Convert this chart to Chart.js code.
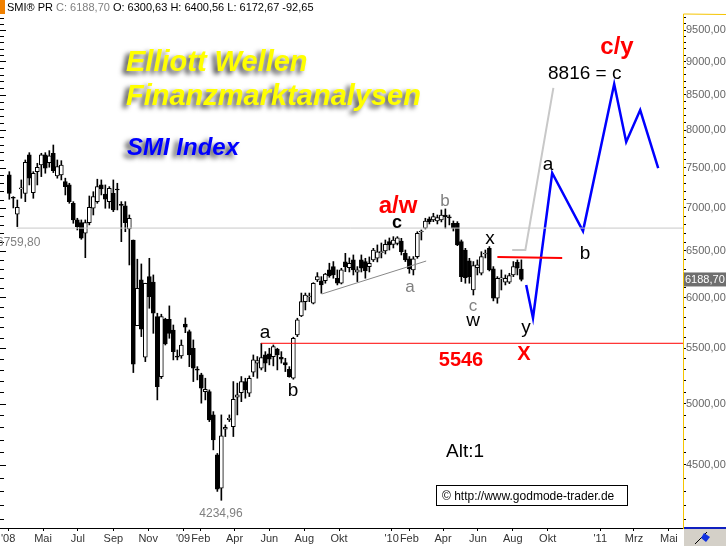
<!DOCTYPE html>
<html>
<head>
<meta charset="utf-8">
<title>SMI Index - Elliott Wellen</title>
<script src="https://cdn.jsdelivr.net/npm/chart.js@4.4.0/dist/chart.umd.min.js"></script>
<style>
  html, body { margin: 0; padding: 0; background: #fff; }
  #wrap { width: 726px; height: 546px; }
</style>
</head>
<body>
<div id="wrap"><canvas id="chart" width="726" height="546"></canvas></div>
<script>
// Weekly candles, first candle = week of Mon 3 Mar 2008
const firstWeek = "2008-03-03";

const candleOpen = [
  7406, 7125, 6923, 7230, 7176, 7665, 7184, 7448, 7534, 7665,
  7564, 7687, 7394, 7406, 7322, 7280, 7054, 6855, 6823, 6700,
  6823, 6994, 7074, 7280, 7168, 7074, 7176, 7226, 7034, 7022,
  6750, 6623, 5717, 6184, 5415, 6219, 6160, 5806, 5238, 5780,
  5780, 5674, 5425, 5427, 5733, 5658, 5499, 5305, 5253, 5104,
  5104, 4904, 4578, 4324, 4785, 4865, 4806, 5055, 5096, 5193,
  5090, 5277, 5360, 5314, 5436, 5446, 5421, 5490, 5415, 5365,
  5304, 5223, 5626, 5813, 5957, 6005, 5941, 6184, 6173, 6176,
  6291, 6327, 6202, 6149, 6378, 6316, 6400, 6266, 6400, 6382,
  6327, 6400, 6418, 6480, 6499, 6604, 6574, 6585, 6612, 6473,
  6411, 6291, 6437, 6715, 6758, 6867, 6855, 6843, 6855, 6914,
  6890, 6816, 6816, 6604, 6510, 6389, 6078, 6316, 6255, 6466,
  6529, 6302, 5992, 6195, 6160, 6160, 6237, 6375, 6300.63
];
const candleHigh = [
  7448, 7135, 7094, 7343, 7599, 7695, 7448, 7556, 7687, 7695,
  7722, 7797, 7599, 7590, 7365, 7301, 7074, 6875, 6855, 6855,
  7143, 7196, 7352, 7343, 7280, 7259, 7343, 7301, 7074, 7074,
  6914, 6623, 6408, 6356, 6149, 6418, 6237, 5840, 5830, 5790,
  5914, 5723, 5483, 5578, 5793, 5674, 5578, 5328, 5268, 5223,
  5119, 4932, 4590, 4904, 4820, 4904, 5193, 5179, 5238, 5223,
  5244, 5436, 5421, 5546, 5467, 5499, 5530, 5499, 5467, 5405,
  5328, 5604, 5790, 6046, 6046, 6046, 6155, 6262, 6219, 6255,
  6364, 6382, 6291, 6309, 6473, 6422, 6455, 6327, 6455, 6418,
  6433, 6529, 6567, 6589, 6623, 6646, 6661, 6661, 6642, 6510,
  6437, 6437, 6718, 6738, 6875, 6890, 6934, 6914, 6974, 6986,
  6914, 6843, 6835, 6623, 6529, 6418, 6382, 6400, 6491, 6510,
  6548, 6327, 6219, 6291, 6237, 6255, 6382, 6400, 6400.56
];
const candleLow = [
  7103, 6998, 6777, 7115, 7074, 7280, 7115, 7280, 7385, 7428,
  7505, 7436, 7365, 7343, 7156, 7054, 6816, 6738, 6631, 6425,
  6797, 6914, 7054, 7156, 6994, 6994, 6954, 6974, 6604, 6718,
  6345, 5274, 5717, 5610, 5374, 5890, 5642, 5032, 5220, 5530,
  5594, 5390, 5390, 5405, 5648, 5328, 5193, 5208, 5004, 5032,
  4848, 4618, 4300, 4234.96, 4725, 4848, 4725, 4904, 5017, 5047,
  5061, 5238, 5223, 5298, 5283, 5344, 5335, 5298, 5360, 5283,
  5232, 5214, 5610, 5806, 5873, 5957, 5934, 6166, 6044, 6149,
  6212, 6202, 6131, 6141, 6273, 6269, 6237, 6166, 6269, 6202,
  6269, 6382, 6378, 6422, 6466, 6510, 6533, 6567, 6455, 6382,
  6255, 6237, 6418, 6623, 6750, 6808, 6835, 6808, 6832, 6758,
  6797, 6726, 6559, 6166, 6149, 6149, 6026, 6237, 6237, 6422,
  6280, 5965, 5941, 6078, 6131, 6145, 6219, 6237, 6172.67
];
const candleClose = [
  7176, 7115, 7006, 7245, 7569, 7365, 7428, 7505, 7665, 7492,
  7652, 7461, 7513, 7534, 7259, 7074, 6855, 6777, 6643, 6823,
  7006, 7135, 7259, 7230, 7103, 7238, 6974, 7217, 7028, 6823,
  6875, 5350, 6096, 5681, 6149, 6009, 5840, 5148, 5806, 5540,
  5642, 5467, 5415, 5530, 5701, 5436, 5314, 5295, 5134, 5125,
  4862, 4698, 4316, 4730, 4800, 4875, 5038, 5075, 5193, 5119,
  5223, 5390, 5384, 5411, 5360, 5397, 5515, 5436, 5397, 5344,
  5238, 5594, 5773, 5957, 6026, 6015, 6149, 6219, 6131, 6245,
  6226, 6237, 6149, 6291, 6324, 6364, 6291, 6291, 6309, 6280,
  6364, 6510, 6491, 6491, 6574, 6567, 6623, 6649, 6491, 6400,
  6302, 6411, 6700, 6726, 6843, 6835, 6894, 6882, 6914, 6894,
  6879, 6758, 6567, 6219, 6209, 6219, 6338, 6345, 6437, 6477,
  6291, 5992, 6202, 6205, 6202, 6230, 6327, 6309, 6188.70
];

// Elliott projection (x in weeks after firstWeek)
const waveWeeks = [129.2, 130.9, 135.7, 143.4, 151.2, 154.2, 157.7, 162.2];
const waveValues = [6129, 5793, 7431, 6726, 8658, 7838, 8280, 7494];
const altWeeks = [125.7, 129.0, 136.0];
const altValues = [6510, 6510, 8600];
const neckWeeks = [122.0, 138.2];
const neckValues = [6433, 6422];
const trendWeeks = [78.1, 104.2];
const trendValues = [6036, 6388];
const supportStart = 62.9;
const supportValue = 5546;
const refStart = 1.9;
const refValue = 6759.8;

// axis ticks
const monthTicks = ["2008-03-01", "2008-05-01", "2008-07-01", "2008-09-01", "2008-11-01",
  "2009-01-01", "2009-02-01", "2009-04-01", "2009-06-01", "2009-08-01", "2009-10-01",
  "2010-01-01", "2010-02-01", "2010-04-01", "2010-06-01", "2010-08-01", "2010-10-01",
  "2011-01-01", "2011-03-01", "2011-05-01"];
const monthLabels = ["'08", "Mai", "Jul", "Sep", "Nov", "'09", "Feb", "Apr", "Jun", "Aug", "Okt",
  "'10", "Feb", "Apr", "Jun", "Aug", "Okt", "'11", "Mrz", "Mai"];
const priceStep = 100;
const priceMin = 4100;
const priceMax = 9700;

const FONT = "'Liberation Sans', Arial, sans-serif";
Chart.defaults.font.family = FONT;

const weekMs = 7 * 24 * 3600 * 1000;
const weekOf = (d) => (Date.parse(d) - Date.parse(firstWeek)) / weekMs;
const fmt = (v) => v.toFixed(2).replace(".", ",");

const priceTicks = [];
for (let v = priceMin; v <= priceMax; v += priceStep) priceTicks.push(v);

const wickData = candleHigh.map((h, i) => ({ x: i, y: [candleLow[i], h] }));
const bodyData = candleOpen.map((o, i) => ({
  x: i,
  y: [Math.min(o, candleClose[i]), Math.max(o, candleClose[i])],
}));
const bodyColors = candleOpen.map((o, i) => (candleClose[i] >= o ? "#ffffff" : "#000000"));

const pairs = (xs, ys) => xs.map((x, i) => ({ x: x, y: ys[i] }));

function lineSet(data, color, width) {
  return {
    type: "line",
    data: data,
    borderColor: color,
    borderWidth: width,
    pointRadius: 0,
    fill: false,
    tension: 0,
    order: 0,
  };
}

// overlay: header, titles, wave labels, markers
function txt(ctx, s, x, y, font, color, align) {
  ctx.font = font;
  ctx.fillStyle = color;
  ctx.textAlign = align || "left";
  ctx.textBaseline = "alphabetic";
  ctx.fillText(s, x, y);
}

const overlay = {
  id: "overlay",
  afterDraw(chart) {
    const ctx = chart.ctx;
    const ys = chart.scales.y;
    const area = chart.chartArea;
    ctx.save();

    // left minor ticks
    ctx.strokeStyle = "#000";
    ctx.lineWidth = 1;
    priceTicks.forEach((v) => {
      const py = Math.round(ys.getPixelForValue(v)) + 0.5;
      ctx.beginPath();
      ctx.moveTo(0, py);
      ctx.lineTo(v % 500 === 0 ? 6 : 4, py);
      ctx.stroke();
    });

    // right axis frame
    ctx.strokeStyle = "#f5c400";
    ctx.beginPath();
    ctx.moveTo(area.right + 0.5, area.top);
    ctx.lineTo(726, area.top + 0.5);
    ctx.stroke();

    // bottom-right button
    ctx.fillStyle = "#d4d0c8";
    ctx.fillRect(area.right + 1, area.bottom + 1, 726 - area.right, 546 - area.bottom);
    ctx.fillStyle = "#1020c0";
    ctx.fillRect(area.right + 1, area.bottom - 1, 726 - area.right, 2);
    ctx.strokeStyle = "#000";
    ctx.beginPath();
    ctx.moveTo(area.right + 12, 544);
    ctx.lineTo(area.right + 24, 532);
    ctx.stroke();
    ctx.fillStyle = "#1030e0";
    ctx.beginPath();
    ctx.moveTo(area.right + 21, 533);
    ctx.lineTo(area.right + 27, 537);
    ctx.lineTo(area.right + 23, 542);
    ctx.lineTo(area.right + 18, 538);
    ctx.closePath();
    ctx.fill();

    // last price marker
    const py = ys.getPixelForValue(candleClose[candleClose.length - 1]);
    ctx.fillStyle = "#6e6e6e";
    ctx.fillRect(area.right + 1, py - 7, 726 - area.right, 14);
    txt(ctx, fmt(candleClose[candleClose.length - 1]), area.right + 2, py + 4, "11px " + FONT, "#ffffff");

    // header
    ctx.fillStyle = "#f08000";
    ctx.fillRect(0, 0, 5, 14);
    let hx = 7;
    [["SMI\u00ae PR ", "#000"], ["C: 6188,70 ", "#808080"],
     ["O: 6300,63 H: 6400,56 L: 6172,67 -92,65", "#000"]].forEach(([s, c]) => {
      txt(ctx, s, hx, 11, "11px " + FONT, c);
      hx += ctx.measureText(s).width;
    });

    // titles with shadow
    ctx.save();
    ctx.shadowColor = "rgba(0,0,0,0.75)";
    ctx.shadowBlur = 5;
    ctx.shadowOffsetX = -4;
    ctx.shadowOffsetY = 3;
    txt(ctx, "Elliott Wellen", 126, 71, "italic bold 29px " + FONT, "#ffff00");
    txt(ctx, "Finanzmarktanalysen", 126, 105, "italic bold 29px " + FONT, "#ffff00");
    txt(ctx, "SMI Index", 127, 155, "italic bold 24px " + FONT, "#0000ff");
    ctx.restore();

    // reference values
    txt(ctx, "6759,80", -3, 246, "12px " + FONT, "#808080");
    txt(ctx, "4234,96", 221, 517, "12px " + FONT, "#808080", "center");

    // wave labels
    const big = "bold 24px " + FONT;
    const lbl = "19px " + FONT;
    const lblB = "bold 18px " + FONT;
    txt(ctx, "a/w", 398, 213, big, "#ff0000", "center");
    txt(ctx, "c/y", 617, 54, big, "#ff0000", "center");
    txt(ctx, "8816 = c", 548, 79, lbl, "#000", "left");
    txt(ctx, "a", 548, 170, lbl, "#000", "center");
    txt(ctx, "b", 585, 259, lbl, "#000", "center");
    txt(ctx, "c", 397, 228, lblB, "#000", "center");
    txt(ctx, "b", 445, 206, "17px " + FONT, "#808080", "center");
    txt(ctx, "a", 410, 292, "17px " + FONT, "#808080", "center");
    txt(ctx, "c", 473, 311, "17px " + FONT, "#808080", "center");
    txt(ctx, "w", 473, 326, lbl, "#000", "center");
    txt(ctx, "x", 490, 244, lbl, "#000", "center");
    txt(ctx, "y", 526, 333, lbl, "#000", "center");
    txt(ctx, "X", 524, 360, "bold 20px " + FONT, "#ff0000", "center");
    txt(ctx, "5546", 461, 366, "bold 20px " + FONT, "#ff0000", "center");
    txt(ctx, "a", 265, 338, lbl, "#000", "center");
    txt(ctx, "b", 293, 396, lbl, "#000", "center");
    txt(ctx, "Alt:1", 446, 457, "19px " + FONT, "#000", "left");

    // copyright box
    ctx.strokeStyle = "#000";
    ctx.strokeRect(436.5, 485.5, 191, 20);
    txt(ctx, "\u00a9 http://www.godmode-trader.de", 442, 500, "12px " + FONT, "#000", "left");

    ctx.restore();
  },
};

new Chart(document.getElementById("chart"), {
  type: "bar",
  data: {
    datasets: [
      lineSet(pairs([refStart, 175], [refValue, refValue]), "#c8c8c8", 1),
      lineSet(pairs([supportStart, 175], [supportValue, supportValue]), "#ff0000", 1),
      lineSet(pairs(trendWeeks, trendValues), "#888888", 1),
      lineSet(pairs(neckWeeks, neckValues), "#ff0000", 2),
      lineSet(pairs(altWeeks, altValues), "#c8c8c8", 2),
      lineSet(pairs(waveWeeks, waveValues), "#0000ff", 2.5),
      {
        type: "bar",
        data: bodyData,
        backgroundColor: bodyColors,
        borderColor: "#000",
        borderWidth: 1,
        borderSkipped: false,
        barThickness: 4,
        minBarLength: 1,
        grouped: false,
        order: 1,
      },
      {
        type: "bar",
        data: wickData,
        backgroundColor: "#000",
        borderWidth: 0,
        barThickness: 1,
        grouped: false,
        order: 2,
      },
    ],
  },
  options: {
    responsive: false,
    animation: false,
    layout: { padding: { top: 14, left: 0, right: 0, bottom: 0 } },
    plugins: { legend: { display: false }, tooltip: { enabled: false } },
    scales: {
      x: {
        type: "linear",
        min: -2.33,
        max: 168.4,
        bounds: "data",
        offset: false,
        afterBuildTicks: (s) => {
          s.ticks = monthTicks.map((d) => ({ value: weekOf(d) }));
        },
        afterFit: (s) => {
          s.height = 18;
        },
        ticks: {
          autoSkip: false,
          maxRotation: 0,
          padding: 1,
          color: "#333",
          font: { size: 11 },
          callback: (v, i) => monthLabels[i],
        },
        grid: { drawOnChartArea: false, tickLength: 3, color: "#000", offset: false },
        border: { color: "#000", width: 1 },
      },
      y: {
        type: "logarithmic",
        position: "right",
        min: 4038,
        max: 9765,
        bounds: "data",
        afterBuildTicks: (s) => {
          s.ticks = priceTicks.map((v) => ({ value: v }));
        },
        afterFit: (s) => {
          s.width = 43;
        },
        ticks: {
          autoSkip: false,
          padding: 0,
          color: "#666",
          font: { size: 11 },
          callback: (v) => (v % 500 === 0 ? fmt(v) : ""),
        },
        grid: { drawOnChartArea: false, tickLength: 3, color: "#000" },
        border: { color: "#f5c400", width: 1 },
      },
    },
  },
  plugins: [overlay],
});
</script>
</body>
</html>
